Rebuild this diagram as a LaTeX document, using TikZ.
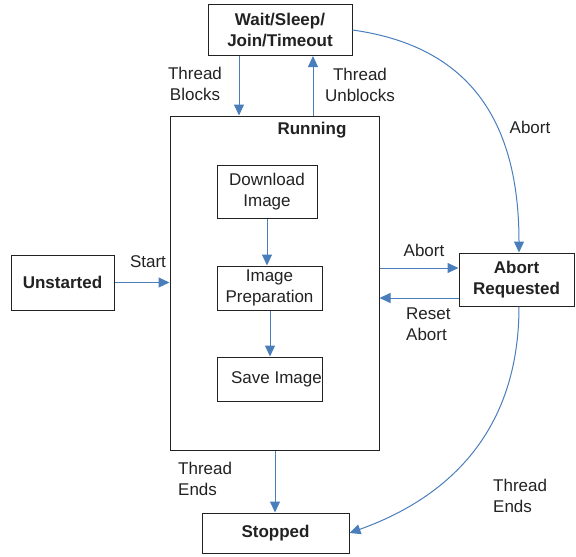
\documentclass[tikz,border=0pt]{standalone}
\usepackage{fontspec}
\setmainfont{Liberation Sans}
\usetikzlibrary{arrows.meta}
\definecolor{edgeblue}{HTML}{4A7EBB}
\definecolor{ink}{HTML}{222222}
\tikzset{
  state/.style={draw=ink, line width=1pt, fill=white, inner sep=0pt, align=center,
    font=\fontsize{17}{20.5}\selectfont\bfseries, text=ink},
  sub/.style={draw=ink, line width=1pt, inner sep=0pt, align=center,
    font=\fontsize{17}{20.5}\selectfont, text=ink},
  lbl/.style={inner sep=0pt, font=\fontsize{17}{20.5}\selectfont, text=ink},
  flow/.style={draw=edgeblue, line width=1pt, -{Triangle[length=11pt,width=10pt]}}
}
\begin{document}
\begin{tikzpicture}[x=1pt,y=-1pt]
\useasboundingbox (0,0) rectangle (576,557);
% states
\node[state, minimum width=144pt, minimum height=51pt] (wait) at (280,30) {Wait/Sleep/\\Join/Timeout};
\node[state, minimum width=209pt, minimum height=334pt] (run) at (274.5,283) {};
\node[lbl, font=\fontsize{17}{20.5}\selectfont\bfseries] (runlbl) at (312,130) {Running};
\node[state, minimum width=103pt, minimum height=55pt] (unst) at (62.5,282.5) {Unstarted};
\node[state, minimum width=115pt, minimum height=53pt] (abreq) at (516.5,279.5) {Abort\\Requested};
\node[state, minimum width=147pt, minimum height=40pt] (stop) at (275.5,533) {Stopped};
% sub-steps
\node[sub, minimum width=100pt, minimum height=53pt] (dl) at (267,191.5) {Download\\Image};
\node[sub, minimum width=105pt, minimum height=44pt] (prep) at (269.5,288) {Image\\Preparation};
\node[sub, minimum width=105pt, minimum height=44pt] (save) at (269.5,379) {\hspace*{14pt}Save Image};
% helper x-positions
\coordinate (bx) at (239,0);
\coordinate (ux) at (313,0);
\coordinate (ex) at (275,0);
\coordinate (dx) at (267,0);
\coordinate (px) at (270,0);
\coordinate (ay) at (0,268);
\coordinate (ry) at (0,298);
\coordinate (cx) at (519,0);
\coordinate (wy) at (0,30);
% connectors
\draw[flow] (bx |- wait.south) -- (bx |- run.north);
\draw[flow] (ux |- run.north) -- (ux |- wait.south);
\draw[flow] (unst.east) -- (unst.east -| run.west);
\draw[flow] (run.east |- ay) -- (abreq.west |- ay);
\draw[flow] (abreq.west |- ry) -- (run.east |- ry);
\draw[flow] (ex |- run.south) -- (ex |- stop.north);
\draw[flow] (dx |- dl.south) -- (dx |- prep.north);
\draw[flow] (px |- prep.south) -- (px |- save.north);
\draw[flow] (wait.east |- wy) .. controls (460,45) and (519,110) .. (cx |- abreq.north);
\draw[flow] (cx |- abreq.south) .. controls (519,430) and (450,497) .. (stop.east);
% labels
\node[lbl, align=center] (tb) at (195,84) {Thread\\Blocks};
\node[lbl, align=center] (tu) at (360,85) {Thread\\Unblocks};
\node[lbl] (st) at (148,262) {Start};
\node[lbl] (ab1) at (424,250) {Abort};
\node[lbl, align=left, anchor=west] (ra) at (406,324) {Reset\\Abort};
\node[lbl] (ab2) at (530,127) {Abort};
\node[lbl, align=left, anchor=west] (te1) at (178,479) {Thread\\Ends};
\node[lbl, align=left, anchor=west] (te2) at (493,496) {Thread\\Ends};
\end{tikzpicture}
\end{document}
